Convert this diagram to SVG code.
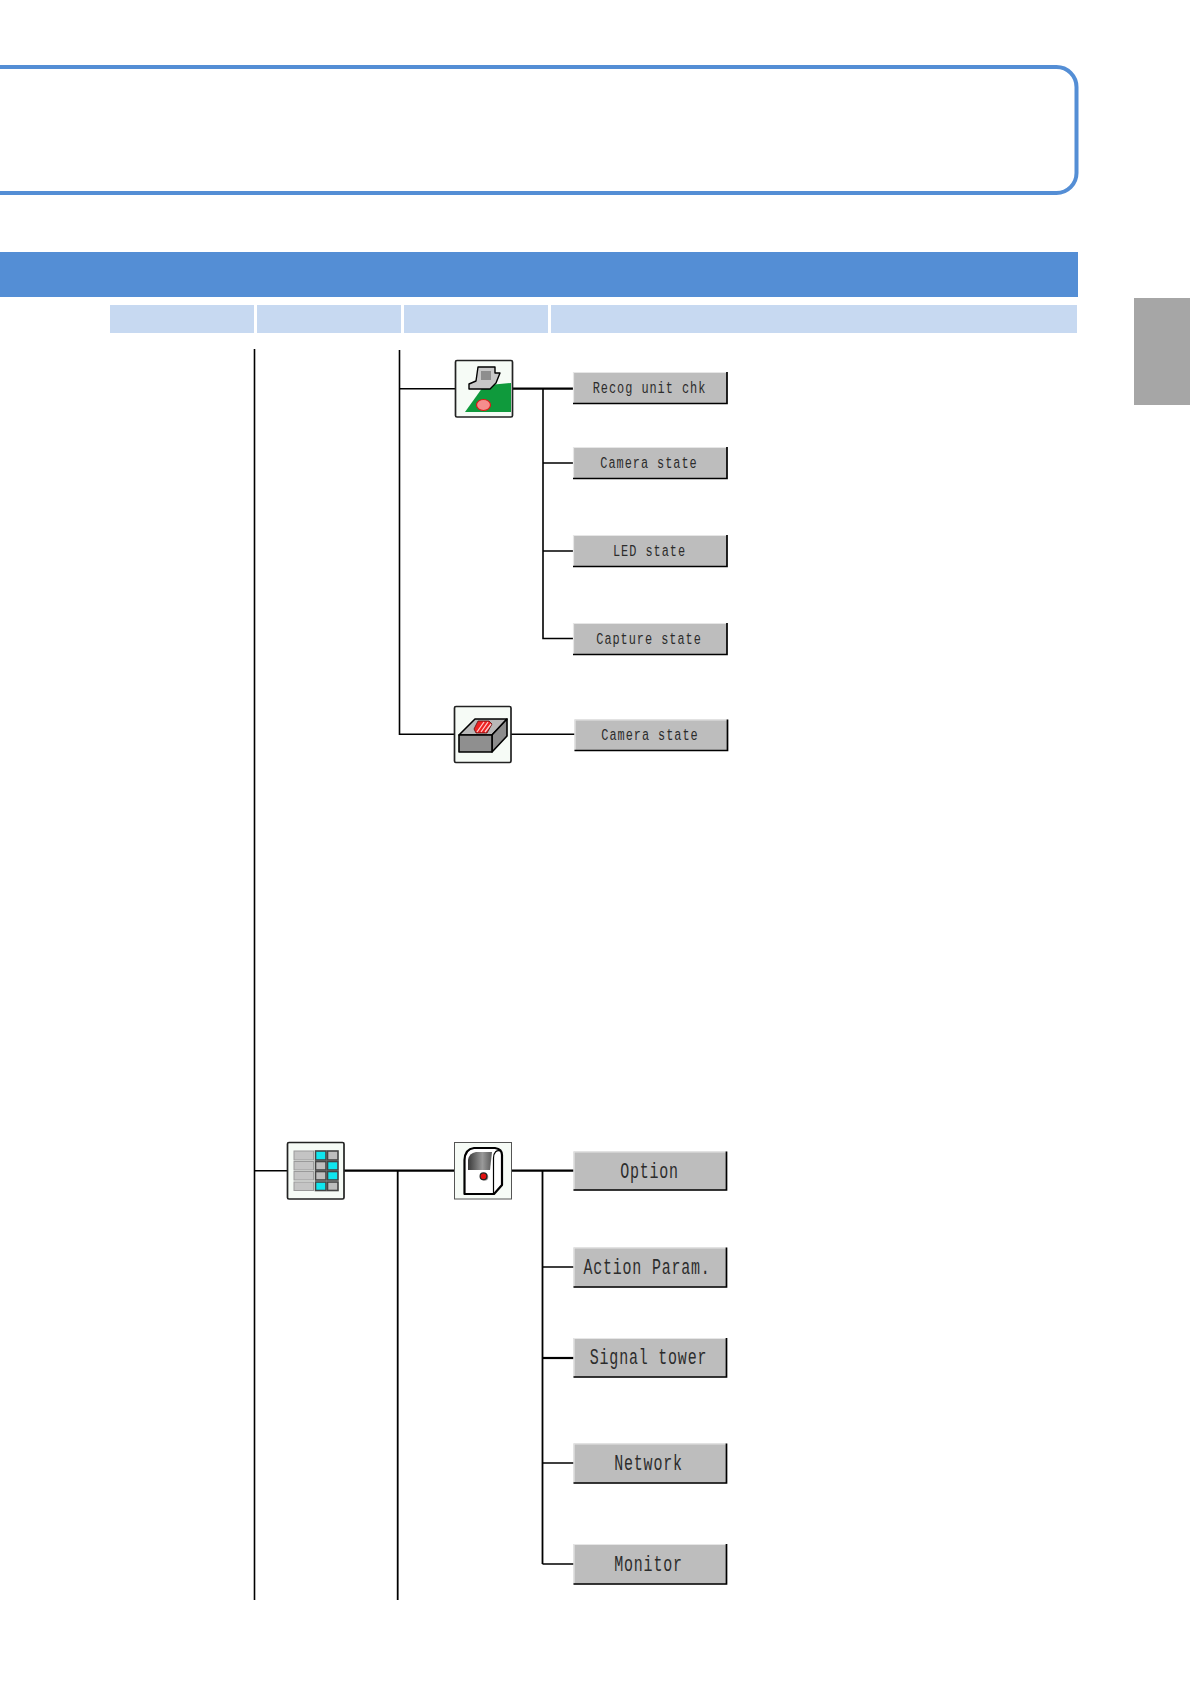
<svg xmlns="http://www.w3.org/2000/svg" width="1190" height="1684" viewBox="0 0 1190 1684">
<defs>
<linearGradient id="scr" x1="0" x2="1" y1="0" y2="0"><stop offset="0" stop-color="#3a3a3a"/><stop offset="0.6" stop-color="#9a9a9a"/><stop offset="1" stop-color="#5a5a5a"/></linearGradient>
</defs>
<style>
.band{fill:#c7d9f1}
.ln{fill:none;stroke:#000;stroke-width:1.6}
.lh{fill:none;stroke:#000;stroke-width:2.2}
.btn{fill:#bdbdbd}
.hi{fill:none;stroke:#e6e6e6;stroke-width:1.2}
.lo{fill:none;stroke:#000;stroke-width:1.7}
.frame{fill:#f6fbf6;stroke:#222;stroke-width:1.7}
.t{font-family:"Liberation Mono",monospace;fill:#2c2c2c;text-anchor:middle}
.s{font-size:17px;letter-spacing:1.4px}
.b{font-size:22px;letter-spacing:1.2px}
.o{stroke:#000;stroke-width:1.6;stroke-linejoin:round}
.c{stroke:#444;stroke-width:1.6}
.r{fill:#c4c4c4;stroke:#9a9a9a;stroke-width:1}
</style>
<rect x="-30" y="67" width="1106.5" height="126" rx="20" fill="#fff" stroke="#548ed5" stroke-width="4"/>
<rect x="0" y="252" width="1078" height="45" fill="#548ed5"/>
<rect class="band" x="110" y="305" width="144" height="28"/>
<rect class="band" x="257" y="305" width="144" height="28"/>
<rect class="band" x="404" y="305" width="144" height="28"/>
<rect class="band" x="551" y="305" width="526" height="28"/>
<rect x="1134" y="298" width="56" height="107" fill="#a6a6a6"/>
<g id="connectors">
<path class="ln" d="M254.5 349V1600M254.5 1170.7H288"/>
<path class="ln" d="M399.5 350V734.3H455M399.5 388.7H456"/>
<path class="lh" d="M513 388.7H574"/>
<path class="ln" d="M543 388.7V638.5H574M543 463H574M543 551H574"/>
<path class="ln" d="M511 734.3H575"/>
<path class="lh" d="M344 1170.7H455M512 1170.7H574"/>
<path class="lh" d="M397.7 1170.7V1600" style="stroke-width:1.8"/>
<path class="lh" d="M542.5 1170.7V1564" style="stroke-width:1.8"/>
<path class="ln" d="M542.5 1564H574M542.5 1267H574M542.5 1463H574"/>
<path class="lh" d="M542.5 1358H574"/>
</g>
<g id="icon-recog">
<rect class="frame" x="455.5" y="360.5" width="57" height="56.5" rx="1.5"/>
<path d="M465 412L484 385.5L511 383V412Z" fill="#0f9a3c"/>
<path d="M478 367H495V373H500L496 383L490 389H469V384L476 381Z" fill="#c8c8c8" stroke="#000" stroke-width="1.4" stroke-linejoin="round"/>
<rect x="481" y="371" width="10" height="9" fill="#8e8e8e"/>
<ellipse cx="483.5" cy="405" rx="7" ry="5.5" fill="#f58d8d" stroke="#e01515" stroke-width="1.2"/>
</g>
<g id="icon-camera">
<rect class="frame" x="454.5" y="706.5" width="56.5" height="56" rx="1.5"/>
<path d="M459 735L475 719H507L492 735Z" fill="#b8b8b8" class="o"/>
<path d="M492 735L507 719V736L492 752Z" fill="#8c8c8c" class="o"/>
<rect x="459" y="735" width="33" height="17" fill="#8f8f8f" class="o"/>
<path d="M478 721H489L492 724L487 733H476L474 729Z" fill="#e22" stroke="#5a1010" stroke-width="0.8"/>
<path d="M477 732L484 722M481 732L488 722M485 732L491 724" stroke="#fcc" stroke-width="1.3"/>
</g>
<g id="icon-table">
<rect class="frame" x="287.5" y="1142.5" width="56.5" height="56.5" rx="1.5"/>
<rect class="r" x="294" y="1151" width="19.5" height="9"/><rect class="r" x="294" y="1161.5" width="19.5" height="8.5"/><rect class="r" x="294" y="1171.5" width="19.5" height="8.5"/><rect class="r" x="294" y="1182" width="19.5" height="8.5"/>
<rect class="c" x="315.5" y="1151" width="10.5" height="9" fill="#0fe6ee"/><rect class="c" x="327.5" y="1151" width="10.5" height="9" fill="#bdbdbd"/>
<rect class="c" x="315.5" y="1161.5" width="10.5" height="8.5" fill="#bdbdbd"/><rect class="c" x="327.5" y="1161.5" width="10.5" height="8.5" fill="#0fe6ee"/>
<rect class="c" x="315.5" y="1171.5" width="10.5" height="8.5" fill="#bdbdbd"/><rect class="c" x="327.5" y="1171.5" width="10.5" height="8.5" fill="#0fe6ee"/>
<rect class="c" x="315.5" y="1182" width="10.5" height="8.5" fill="#0fe6ee"/><rect class="c" x="327.5" y="1182" width="10.5" height="8.5" fill="#bdbdbd"/>
</g>
<g id="icon-tower">
<rect x="454.5" y="1142.5" width="57" height="56.5" fill="#f6fbf6" stroke="#555" stroke-width="1"/>
<path d="M464.5 1194V1160Q465 1149 474 1148H495Q502 1149 502 1155V1185L494 1194Z" fill="#fff" stroke="#000" stroke-width="2.2" stroke-linejoin="round"/>
<path d="M493.5 1194V1158Q494 1149 501 1151" fill="none" stroke="#000" stroke-width="1.2"/>
<path d="M468 1170V1160Q469 1153 476 1152H492L490 1170Z" fill="url(#scr)"/>
<circle cx="484.5" cy="1177" r="3.8" fill="#999"/>
<circle cx="483.5" cy="1176.3" r="3.4" fill="#e01010" stroke="#222" stroke-width="1.2"/>
</g>
<g id="btn-recog"><rect class="btn" x="573" y="372" width="154" height="32"/><path class="hi" d="M573.5 404V372.5H727"/><path class="lo" d="M573 403.5H727V372"/><text class="t s" transform="translate(649.5 393) scale(.7 1)">Recog unit chk</text></g>
<g id="btn-camera1"><rect class="btn" x="573" y="447" width="154" height="32"/><path class="hi" d="M573.5 479V447.5H727"/><path class="lo" d="M573 478.5H727V447"/><text class="t s" transform="translate(649 468) scale(.7 1)">Camera state</text></g>
<g id="btn-led"><rect class="btn" x="573" y="535" width="154" height="32"/><path class="hi" d="M573.5 567V535.5H727"/><path class="lo" d="M573 566.5H727V535"/><text class="t s" transform="translate(649.5 556) scale(.7 1)">LED state</text></g>
<g id="btn-capture"><rect class="btn" x="573" y="623" width="154" height="32"/><path class="hi" d="M573.5 655V623.5H727"/><path class="lo" d="M573 654.5H727V623"/><text class="t s" transform="translate(649 643.5) scale(.7 1)">Capture state</text></g>
<g id="btn-camera2"><rect class="btn" x="574.5" y="719.5" width="153" height="31.5"/><path class="hi" d="M575 751V720H727.5"/><path class="lo" d="M574.5 750.5H727.5V719.5"/><text class="t s" transform="translate(650 739.5) scale(.7 1)">Camera state</text></g>
<g id="btn-option"><rect class="btn" x="573.5" y="1151.5" width="153" height="39"/><path class="hi" d="M574 1191V1152H726.5"/><path class="lo" d="M573.5 1190H726.5V1151.5"/><text class="t b" transform="translate(649.5 1177.5) scale(.68 1)">Option</text></g>
<g id="btn-action"><rect class="btn" x="573.5" y="1247.5" width="153" height="40"/><path class="hi" d="M574 1287V1248H726.5"/><path class="lo" d="M573.5 1287H726.5V1247.5"/><text class="t b" transform="translate(647 1273.5) scale(.68 1)">Action Param.</text></g>
<g id="btn-signal"><rect class="btn" x="573.5" y="1338" width="153" height="39.5"/><path class="hi" d="M574 1377V1338.5H726.5"/><path class="lo" d="M573.5 1377H726.5V1338"/><text class="t b" transform="translate(648.5 1364) scale(.68 1)">Signal tower</text></g>
<g id="btn-network"><rect class="btn" x="573.5" y="1443.5" width="153" height="40"/><path class="hi" d="M574 1483V1444H726.5"/><path class="lo" d="M573.5 1483H726.5V1443.5"/><text class="t b" transform="translate(648.5 1469.5) scale(.68 1)">Network</text></g>
<g id="btn-monitor"><rect class="btn" x="573.5" y="1544" width="153" height="40.5"/><path class="hi" d="M574 1584V1544.5H726.5"/><path class="lo" d="M573.5 1584H726.5V1544"/><text class="t b" transform="translate(648.5 1570.5) scale(.68 1)">Monitor</text></g>
</svg>
